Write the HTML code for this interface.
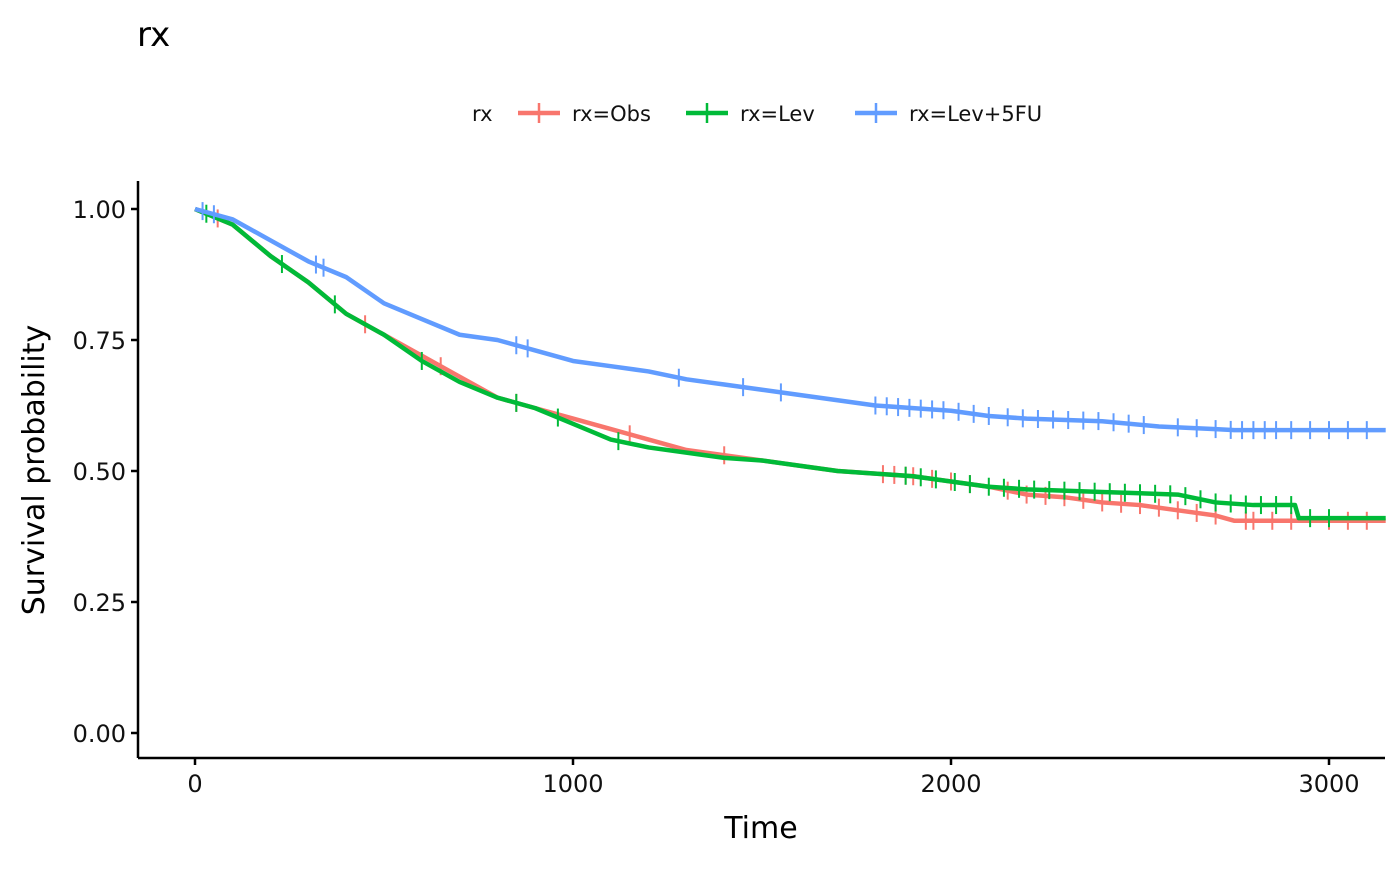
<!DOCTYPE html>
<html><head><meta charset="utf-8"><style>
body{margin:0;background:#fff}
svg text{font-family:"DejaVu Sans","Liberation Sans",sans-serif}
</style></head><body>
<svg id="chart" width="1400" height="866" xmlns="http://www.w3.org/2000/svg">
<text x="137" y="46" font-size="34" fill="#000">rx</text>
<g id="legend"></g>
<g id="plot"></g>
<line x1="138" y1="181" x2="138" y2="758" stroke="#000" stroke-width="2.5"/>
<line x1="138" y1="758" x2="1385" y2="758" stroke="#000" stroke-width="2.5"/>
<g id="axes"></g>
<text x="761" y="838" font-size="30" text-anchor="middle">Time</text>
<text transform="translate(44,470) rotate(-90)" font-size="30" text-anchor="middle">Survival probability</text>
</svg>
<script>
const xTicks=[0,1000,2000,3000];
const yTicks=[0,0.25,0.5,0.75,1];
const yTickLabels=["0.00","0.25","0.50","0.75","1.00"];
const groups=["rx=Obs","rx=Lev","rx=Lev+5FU"];
const colors=["#F8766D","#00BA38","#619CFF"];
const obsT=[0,100,200,300,400,500,600,700,800,900,1000,1100,1200,1300,1400,1500,1600,1700,1800,1900,2000,2100,2200,2300,2400,2500,2600,2700,2750,3150];
const obsS=[1,0.97,0.91,0.86,0.80,0.76,0.72,0.68,0.64,0.62,0.60,0.58,0.56,0.54,0.53,0.52,0.51,0.50,0.495,0.49,0.48,0.47,0.455,0.45,0.44,0.435,0.425,0.415,0.405,0.405];
const levT=[0,100,200,300,400,500,600,700,800,900,1000,1100,1200,1300,1400,1500,1600,1700,1800,1900,2000,2100,2200,2400,2600,2700,2800,2910,2920,3150];
const levS=[1,0.97,0.91,0.86,0.80,0.76,0.71,0.67,0.64,0.62,0.59,0.56,0.545,0.535,0.525,0.52,0.51,0.50,0.495,0.49,0.48,0.47,0.465,0.46,0.455,0.44,0.435,0.435,0.41,0.41];
const fuT=[0,100,200,300,400,500,600,700,800,900,1000,1100,1200,1300,1400,1500,1600,1700,1800,1900,2000,2100,2200,2400,2550,2700,2750,3150];
const fuS=[1,0.98,0.94,0.90,0.87,0.82,0.79,0.76,0.75,0.73,0.71,0.70,0.69,0.675,0.665,0.655,0.645,0.635,0.625,0.62,0.615,0.605,0.60,0.595,0.585,0.58,0.578,0.578];
const obsCens=[60,450,650,850,1150,1400,1820,1850,1880,1900,1950,2000,2050,2150,2200,2250,2300,2350,2400,2450,2500,2550,2600,2650,2700,2780,2800,2850,2900,3000,3050,3100];
const levCens=[30,230,370,600,850,960,1120,1880,1920,1960,2010,2050,2100,2140,2180,2220,2260,2300,2340,2380,2420,2460,2500,2540,2580,2620,2660,2700,2740,2780,2820,2860,2900,2950,3000];
const fuCens=[20,50,320,340,850,880,1280,1450,1550,1800,1830,1860,1890,1920,1950,1980,2020,2060,2100,2150,2190,2230,2270,2310,2350,2390,2430,2470,2510,2600,2650,2700,2740,2770,2800,2830,2860,2900,2950,3000,3050,3100];
const ns="http://www.w3.org/2000/svg";
const xs=t=>195+t*0.378, ys=s=>733-s*524;
function mk(tag,attrs,parent){const e=document.createElementNS(ns,tag);for(const k in attrs)e.setAttribute(k,attrs[k]);parent.appendChild(e);return e;}
const axes=document.getElementById('axes'),plot=document.getElementById('plot'),legend=document.getElementById('legend');
xTicks.forEach(t=>{
  const l=mk('line',{x1:xs(t),x2:xs(t),y1:758,y2:765,stroke:'#000','stroke-width':2.5},axes);
  
  
  const tx=mk('text',{x:xs(t),y:792,'font-size':24,'text-anchor':'middle',fill:'#111'},axes);tx.textContent=t;
  
  
});
yTicks.forEach((v,i)=>{
  const l=mk('line',{x1:131,x2:138,y1:ys(v),y2:ys(v),stroke:'#000','stroke-width':2.5},axes);
  
  
  const tx=mk('text',{x:126,y:ys(v)+9,'font-size':24,'text-anchor':'end',fill:'#111'},axes);tx.textContent=yTickLabels[i];
  
  
});
function interp(T,S,t){for(let i=1;i<T.length;i++){if(t<=T[i]){const f=(t-T[i-1])/(T[i]-T[i-1]);return S[i-1]+f*(S[i]-S[i-1]);}}return S[S.length-1];}
const series=[[obsT,obsS,obsCens],[levT,levS,levCens],[fuT,fuS,fuCens]];
series.forEach(([T,S,C],g)=>{
  const pts=T.map((t,i)=>xs(t)+','+ys(S[i])).join(' ');
  const pl=mk('polyline',{points:pts,fill:'none',stroke:colors[g],'stroke-width':4.5,'stroke-linejoin':'round'},plot);
  
  
  C.forEach(t=>{const y=ys(interp(T,S,t));
    const c=mk('line',{x1:xs(t),x2:xs(t),y1:y-9,y2:y+9,stroke:colors[g],'stroke-width':2},plot);
    
    
  });
});
const lt=mk('text',{x:472,y:121,'font-size':21,fill:'#111'},legend);lt.textContent='rx';


const lx=[518,686,855];
groups.forEach((gname,g)=>{
  const x=lx[g];
  const ln=mk('line',{x1:x,x2:x+42,y1:113,y2:113,stroke:colors[g],'stroke-width':4.5},legend);
  
  
  mk('line',{x1:x+21,x2:x+21,y1:103,y2:123,stroke:colors[g],'stroke-width':2.5},legend);
  const t=mk('text',{x:x+54,y:121,'font-size':21,fill:'#111'},legend);t.textContent=gname;
  
  
});
</script>
</body></html>
